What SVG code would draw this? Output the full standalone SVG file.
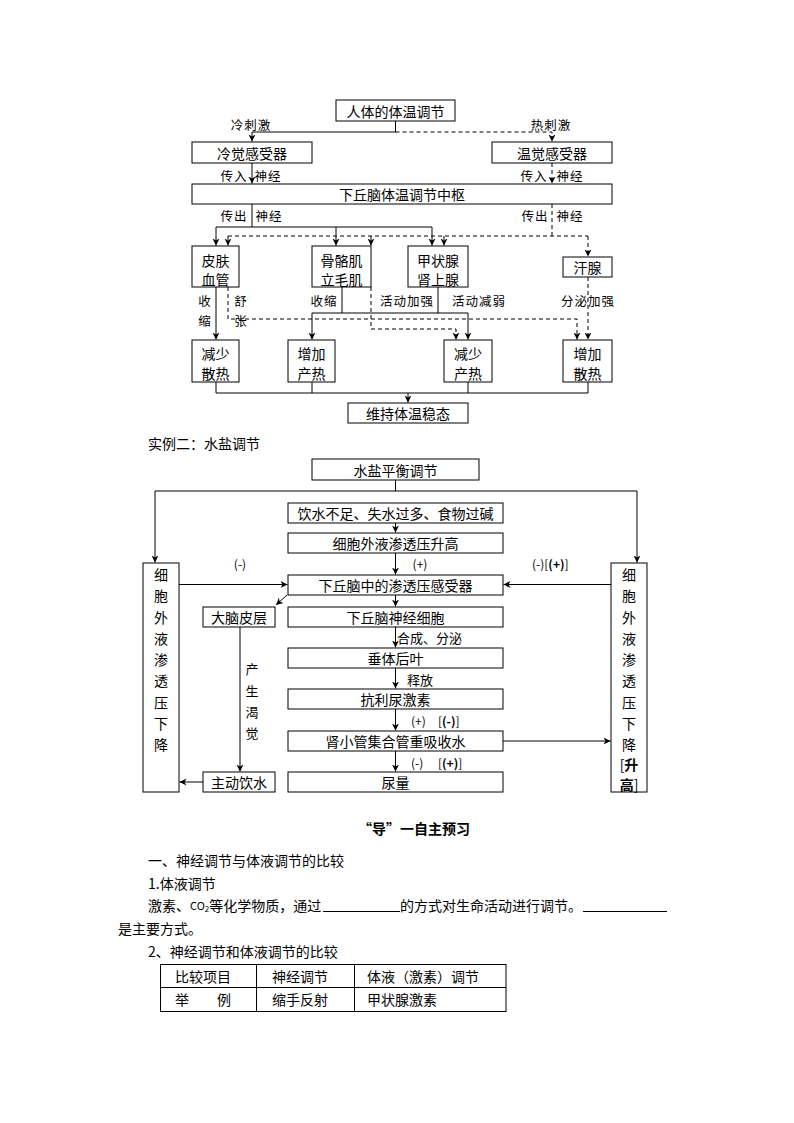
<svg xmlns="http://www.w3.org/2000/svg" width="794" height="1123" viewBox="0 0 794 1123">
<style>
text{font-family:"Noto Sans CJK SC","Liberation Sans",sans-serif;font-size:14px;fill:#000;dominant-baseline:central}
.c{text-anchor:middle}
.s{font-size:12.5px;letter-spacing:1px}
.b{font-weight:bold}
.p{font-size:12px}
rect{fill:#fff;stroke:#000;stroke-width:1}
.ln path{fill:none;stroke:#000;stroke-width:1}
.ln .d{stroke-dasharray:4,3}
.ln .a{marker-end:url(#ar)}
</style>
<defs>
<marker id="ar" markerUnits="userSpaceOnUse" markerWidth="8" markerHeight="8" refX="7" refY="4" orient="auto">
<path d="M0,0.5 L7,4 L0,7.5 L2,4 Z" fill="#000"/>
</marker>
</defs>
<rect x="0" y="0" width="794" height="1123" style="stroke:none"/>

<!-- Top diagram connectors -->
<g class="ln" id="connectors-top">
<path d="M395.5,121 V132 H252 V141.5" class="a"/>
<path d="M395.5,132 H552 V141.5" class="d a"/>
<path d="M252,163 V183.5" class="a"/>
<path d="M552,163 V183.5" class="d a"/>
<path d="M252,204 V227"/>
<path d="M216,227 H432"/>
<path d="M216,227 V245.5" class="a"/>
<path d="M336,227 V245.5" class="a"/>
<path d="M432,227 V245.5" class="a"/>
<path d="M552,204 V236" class="d"/>
<path d="M228,236 H588" class="d"/>
<path d="M228,236 V245.5" class="d a"/>
<path d="M371,236 V245.5" class="d a"/>
<path d="M444,236 V245.5" class="d a"/>
<path d="M588,236 V256.5" class="d a"/>
<path d="M216,287 V339.5" class="a"/>
<path d="M228,287 V319 H577 V339.5" class="d a"/>
<path d="M342,287 V313"/>
<path d="M438,287 V313"/>
<path d="M312,313 H468"/>
<path d="M312,313 V339.5" class="a"/>
<path d="M468,313 V339.5" class="a"/>
<path d="M371,287 V329 H456 V339.5" class="d a"/>
<path d="M588,277 V339.5" class="d a"/>
<path d="M216,382 V393 H588 V382"/>
<path d="M312,382 V393"/>
<path d="M468,382 V393"/>
<path d="M408,393 V402.5" class="a"/>
</g>

<g id="n-title"><rect x="336" y="100" width="119" height="21"/><text x="395.5" y="110.5" class="c">人体的体温调节</text></g>
<g id="n-cold"><rect x="192" y="142" width="120" height="21"/><text x="252" y="152.5" class="c">冷觉感受器</text></g>
<g id="n-warm"><rect x="492" y="142" width="120" height="21"/><text x="552" y="152.5" class="c">温觉感受器</text></g>
<g id="n-hypo"><rect x="192" y="184" width="420" height="20"/><text x="402" y="194" class="c">下丘脑体温调节中枢</text></g>
<g id="n-skin"><rect x="192" y="246" width="47" height="41"/><text x="215.5" y="260" class="c">皮肤</text><text x="215.5" y="279" class="c">血管</text></g>
<g id="n-muscle"><rect x="312" y="246" width="59" height="41"/><text x="341.5" y="260" class="c">骨骼肌</text><text x="341.5" y="279" class="c">立毛肌</text></g>
<g id="n-thyroid"><rect x="408" y="246" width="60" height="41"/><text x="438" y="260" class="c">甲状腺</text><text x="438" y="279" class="c">肾上腺</text></g>
<g id="n-sweat"><rect x="563" y="257" width="49" height="20"/><text x="587.5" y="267" class="c">汗腺</text></g>
<g id="n-r1"><rect x="192" y="340" width="47" height="42"/><text x="215.5" y="353" class="c">减少</text><text x="215.5" y="373" class="c">散热</text></g>
<g id="n-r2"><rect x="288" y="340" width="47" height="42"/><text x="311.5" y="353" class="c">增加</text><text x="311.5" y="373" class="c">产热</text></g>
<g id="n-r3"><rect x="444" y="340" width="48" height="42"/><text x="468" y="353" class="c">减少</text><text x="468" y="373" class="c">产热</text></g>
<g id="n-r4"><rect x="563" y="340" width="49" height="42"/><text x="587.5" y="353" class="c">增加</text><text x="587.5" y="373" class="c">散热</text></g>
<g id="n-steady"><rect x="348" y="403" width="120" height="20"/><text x="408" y="413" class="c">维持体温稳态</text></g>

<g id="labels-top">
<text x="251" y="124" class="c s">冷刺激</text>
<text x="551" y="124" class="c s">热刺激</text>
<text x="234" y="175" class="c s">传入</text>
<text x="268" y="175" class="c s">神经</text>
<text x="534" y="175" class="c s">传入</text>
<text x="570" y="175" class="c s">神经</text>
<text x="234" y="215" class="c s">传出</text>
<text x="269" y="215" class="c s">神经</text>
<text x="535" y="215" class="c s">传出</text>
<text x="570" y="215" class="c s">神经</text>
<text x="205" y="300" class="c s">收</text>
<text x="205" y="320" class="c s">缩</text>
<text x="241" y="300" class="c s">舒</text>
<text x="241" y="320" class="c s">张</text>
<text x="324" y="300" class="c s">收缩</text>
<text x="407" y="300" class="c s">活动加强</text>
<text x="479" y="300" class="c s">活动减弱</text>
<text x="588" y="300" class="c s">分泌加强</text>
</g>

<text x="148" y="443">实例二：水盐调节</text>

<!-- Second diagram connectors -->
<g class="ln" id="connectors-water">
<path d="M395.5,480 V491"/>
<path d="M155,491 H637"/>
<path d="M155,491 V562.5" class="a"/>
<path d="M637,491 V562.5" class="a"/>
<path d="M395.5,523 V532.5" class="a"/>
<path d="M395.5,553 V574.5" class="a"/>
<path d="M179,584.5 H287.5" class="a"/>
<path d="M611,584.5 H503.5" class="a"/>
<path d="M287,595 L276,605" class="a"/>
<path d="M395.5,595 V606.5" class="a"/>
<path d="M395.5,627 V647.5" class="a"/>
<path d="M395.5,668 V688.5" class="a"/>
<path d="M395.5,709 V730.5" class="a"/>
<path d="M503,741 H610.5" class="a"/>
<path d="M395.5,751 V771.5" class="a"/>
<path d="M240,627 V771.5" class="a"/>
<path d="M203,782 H179.5" class="a"/>
</g>

<g id="w-top"><rect x="312" y="459" width="167" height="21"/><text x="395.5" y="469.5" class="c">水盐平衡调节</text></g>
<g id="w-drink"><rect x="288" y="503" width="215" height="20"/><text x="395.5" y="513" class="c">饮水不足、失水过多、食物过碱</text></g>
<g id="w-osm"><rect x="288" y="533" width="215" height="20"/><text x="395.5" y="543" class="c">细胞外液渗透压升高</text></g>
<g id="w-recep"><rect x="288" y="575" width="215" height="20"/><text x="395.5" y="585" class="c">下丘脑中的渗透压感受器</text></g>
<g id="w-neuron"><rect x="288" y="607" width="215" height="20"/><text x="395.5" y="617" class="c">下丘脑神经细胞</text></g>
<g id="w-pit"><rect x="288" y="648" width="215" height="20"/><text x="395.5" y="658" class="c">垂体后叶</text></g>
<g id="w-adh"><rect x="288" y="689" width="215" height="20"/><text x="395.5" y="699" class="c">抗利尿激素</text></g>
<g id="w-reabs"><rect x="288" y="731" width="215" height="20"/><text x="395.5" y="741" class="c">肾小管集合管重吸收水</text></g>
<g id="w-urine"><rect x="288" y="772" width="215" height="20"/><text x="395.5" y="782" class="c">尿量</text></g>
<g id="w-cortex"><rect x="203" y="607" width="72" height="20"/><text x="239" y="617" class="c">大脑皮层</text></g>
<g id="w-active"><rect x="203" y="772" width="72" height="20"/><text x="239" y="782" class="c">主动饮水</text></g>
<g id="w-left"><rect x="143" y="563" width="36" height="229"/>
<text x="161" y="574" class="c">细</text><text x="161" y="595" class="c">胞</text><text x="161" y="616.5" class="c">外</text><text x="161" y="638" class="c">液</text><text x="161" y="659" class="c">渗</text><text x="161" y="680" class="c">透</text><text x="161" y="701.5" class="c">压</text><text x="161" y="722.5" class="c">下</text><text x="161" y="744" class="c">降</text></g>
<g id="w-right"><rect x="611" y="563" width="36" height="229"/>
<text x="629" y="574" class="c">细</text><text x="629" y="595" class="c">胞</text><text x="629" y="616.5" class="c">外</text><text x="629" y="638" class="c">液</text><text x="629" y="659" class="c">渗</text><text x="629" y="680" class="c">透</text><text x="629" y="701.5" class="c">压</text><text x="629" y="722.5" class="c">下</text><text x="629" y="744" class="c">降</text>
<text x="629" y="764" class="c">[<tspan class="b">升</tspan></text><text x="629" y="784" class="c"><tspan class="b">高</tspan>]</text></g>

<g id="labels-water">
<text x="240" y="563" class="c p">(-)</text>
<text x="420" y="563" class="c p">(+)</text>
<text x="532" y="563" class="p">(-)[<tspan class="b">(+)</tspan>]</text>
<text x="397" y="637" style="font-size:13px">合成、分泌</text>
<text x="407" y="679" style="font-size:13px">释放</text>
<text x="411" y="720" class="p">(+)</text>
<text x="438" y="720" class="p">[<tspan class="b">(-)</tspan>]</text>
<text x="411" y="762" class="p">(-)</text>
<text x="438" y="762" class="p">[<tspan class="b">(+)</tspan>]</text>
<text x="252" y="668" class="c" style="font-size:13px">产</text>
<text x="252" y="690" class="c" style="font-size:13px">生</text>
<text x="252" y="711" class="c" style="font-size:13px">渴</text>
<text x="252" y="732" class="c" style="font-size:13px">觉</text>
</g>

<!-- Bottom text -->
<text x="414" y="828" class="c b">“导”一自主预习</text>
<text x="148" y="860">一、神经调节与体液调节的比较</text>
<text x="148" y="883">1.体液调节</text>
<text x="148" y="905">激素、<tspan style="font-size:11px">CO</tspan><tspan style="font-size:8px" dy="3">2</tspan><tspan dy="-3">等化学物质，通过</tspan></text>
<path d="M323,911.5 H400 M583,911.5 H667" stroke="#000" stroke-width="1"/>
<text x="400" y="905">的方式对生命活动进行调节。</text>
<text x="118" y="928">是主要方式。</text>
<text x="148" y="951">2、神经调节和体液调节的比较</text>

<g id="table">
<rect x="160.5" y="964.5" width="345.5" height="47"/>
<path d="M160.5,987.5 H506 M256.5,964.5 V1011.5 M354.5,964.5 V1011.5" stroke="#000" stroke-width="1" fill="none"/>
<text x="175" y="975.5">比较项目</text>
<text x="272" y="975.5">神经调节</text>
<text x="367" y="975.5">体液（激素）调节</text>
<text x="175" y="998.5">举</text>
<text x="217" y="998.5">例</text>
<text x="272" y="998.5">缩手反射</text>
<text x="367" y="998.5">甲状腺激素</text>
</g>
</svg>
